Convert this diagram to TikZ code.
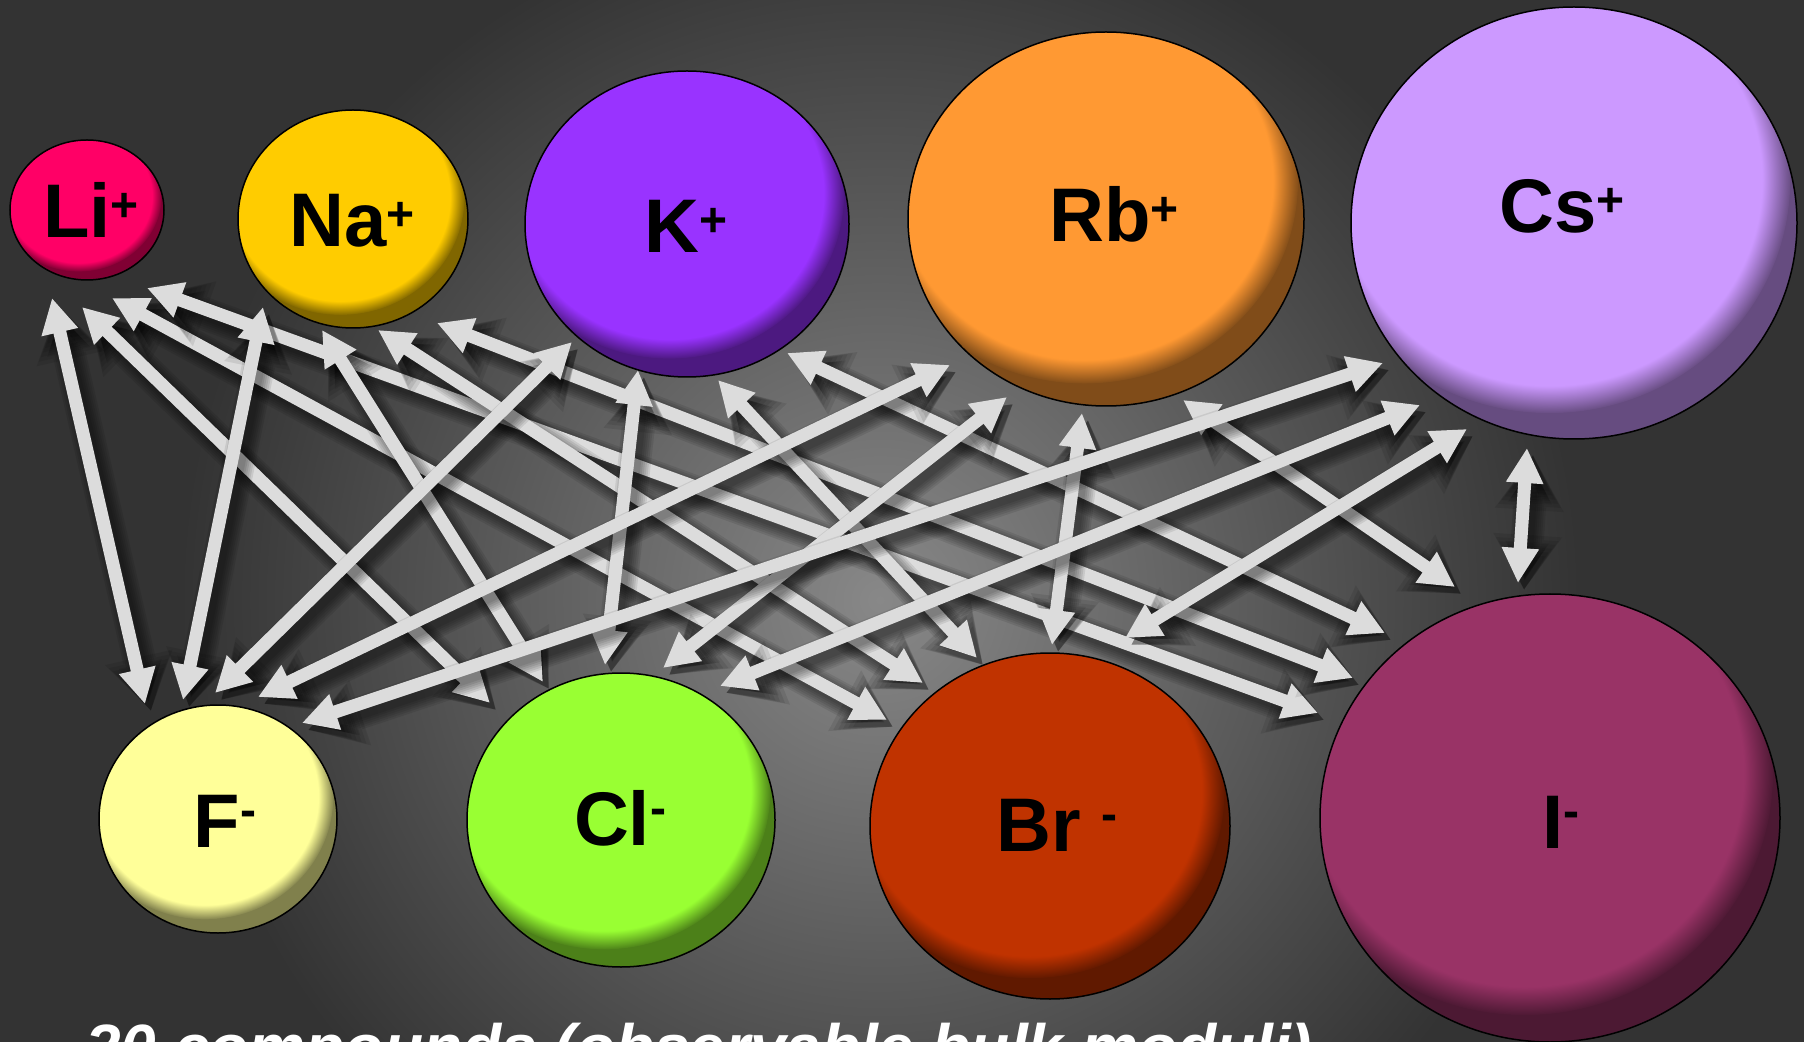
\documentclass[tikz,border=0pt]{standalone}
\usepackage{fontspec}
\setmainfont{Liberation Sans}
\usetikzlibrary{arrows.meta,calc,fadings,shapes.geometric}

% ion colours
\definecolor{cLi}{HTML}{FF0066}
\definecolor{cNa}{HTML}{FFCC00}
\definecolor{cK}{HTML}{9933FF}
\definecolor{cRb}{HTML}{FF9933}
\definecolor{cCs}{HTML}{CC99FF}
\definecolor{cF}{HTML}{FFFF99}
\definecolor{cCl}{HTML}{99FF33}
\definecolor{cBr}{HTML}{C03300}
\definecolor{cI}{HTML}{993366}
\definecolor{bondgray}{HTML}{DCDCDC}
\definecolor{bgmid}{HTML}{888888}
\definecolor{bgedge}{HTML}{333333}

% backdrop glow and the soft rim used for the shaded balls
% (a shaded or faded path is mapped onto the inner 50bp square)
\pgfdeclareradialshading{backdrop}{\pgfpointorigin}{color(0bp)=(bgmid); color(25bp)=(bgedge); color(50bp)=(bgedge)}
\pgfdeclareradialshading{rimshade}{\pgfpointorigin}{color(0bp)=(transparent!0); color(22bp)=(transparent!0); color(25bp)=(transparent!100); color(50bp)=(transparent!100)}
\pgfdeclarefading{rimfade}{\pgfuseshading{rimshade}}

% charge superscripts
\newcommand\cplus{\raisebox{8pt}{\fontsize{24pt}{24pt}\selectfont +}}
\newcommand\cminus{\raisebox{10.5pt}{\fontsize{24pt}{24pt}\selectfont -}}

% #1 name, #2/#3 centre, #4/#5 radii (px), #6 colour, #7/#8 label base point, #9 label
\newcommand\ion[9]{%
  \begin{scope}
    \clip (#2,#3) ellipse [x radius=#4*0.5pt, y radius=#5*0.5pt];
    \fill[#6!50!black] (#2,#3) ellipse [x radius=#4*0.5pt, y radius=#5*0.5pt];
    \fill[#6, path fading=rimfade] ($(#2,#3)+(-0.11*#4,-0.2*#5)$)
      ellipse [x radius=#4*0.54pt, y radius=#5*0.54pt];
  \end{scope}
  \node[ionrim, minimum width=#4pt, minimum height=#5pt] (#1) at (#2,#3) {};
  \node[ionlabel] (#1-label) at (#7,#8) {#9};
}

% double-headed bond with a soft drop shadow
\newcommand\bondpair[2]{%
  \begin{scope}[transform canvas={xshift=3pt,yshift=-3.5pt}]
    \draw[shadowlayer, shA] #1 -- #2;
    \draw[shadowlayer, shB] #1 -- #2;
    \draw[shadowlayer, shC] #1 -- #2;
    \draw[shadowlayer, shD] #1 -- #2;
    \draw[shadowlayer, shE] #1 -- #2;
    \draw[shadowlayer, shF] #1 -- #2;
  \end{scope}
  \draw[bond] #1 -- #2;
}

\tikzset{
  ionrim/.style={ellipse, draw=black, line width=0.75pt, inner sep=0pt, outer sep=0pt},
  ionlabel/.style={anchor=base, inner sep=0pt, text=black,
    font=\fontsize{38pt}{38pt}\selectfont\bfseries},
  bond/.style={draw=bondgray, line width=6.5pt,
    {Triangle[length=17.5pt,width=17.5pt]}-{Triangle[length=17.5pt,width=17.5pt]}},
  shadowlayer/.style={draw=black, opacity=0.085},
  shA/.style={line width=16.5pt,
    {Triangle[length=27.5pt,width=32.5pt]}-{Triangle[length=27.5pt,width=32.5pt]}},
  shB/.style={line width=14.5pt,
    {Triangle[length=25.5pt,width=29.5pt]}-{Triangle[length=25.5pt,width=29.5pt]}},
  shC/.style={line width=12.5pt,
    {Triangle[length=23.5pt,width=26.5pt]}-{Triangle[length=23.5pt,width=26.5pt]}},
  shD/.style={line width=10.5pt,
    {Triangle[length=21.5pt,width=23.5pt]}-{Triangle[length=21.5pt,width=23.5pt]}},
  shE/.style={line width=8.5pt,
    {Triangle[length=19.5pt,width=20.5pt]}-{Triangle[length=19.5pt,width=20.5pt]}},
  shF/.style={line width=6.5pt,
    {Triangle[length=17.5pt,width=17.5pt]}-{Triangle[length=17.5pt,width=17.5pt]}},
  caption/.style={anchor=base west, inner sep=0pt, text=white,
    font=\fontsize{32pt}{32pt}\selectfont\bfseries\itshape},
}

\begin{document}
\begin{tikzpicture}[x=0.5pt,y=-0.5pt]
\useasboundingbox (0,0) rectangle (1804,1042);
\clip (0,0) rectangle (1804,1042);

% backdrop
\fill[bgedge] (0,0) rectangle (1804,1042);
\shade[shading=backdrop] (880,600) circle [radius=350pt];

% cations
\ion{li}{87}{210}{77}{70}{cLi}{91}{238}{Li\cplus}
\ion{na}{353}{219}{115}{109}{cNa}{352}{247}{Na\cplus}
\ion{k}{687}{224}{162}{153}{cK}{686}{253}{K\cplus}
\ion{rb}{1106}{219}{198}{187}{cRb}{1114}{242}{Rb\cplus}
\ion{cs}{1574}{223}{223}{216}{cCs}{1562}{233}{Cs\cplus}
% anions
\ion{f}{218}{819}{119}{114}{cF}{225}{847}{F\cminus}
\ion{cl}{621}{820}{154}{147}{cCl}{620}{845}{Cl\cminus}
\ion{br}{1050}{826}{180}{173}{cBr}{1057}{851}{Br\hspace{10pt}\cminus}
\ion{i}{1550}{818}{230}{224}{cI}{1561}{848}{I\cminus}

% the twenty cation-anion pairs
\bondpair{($(li)+(-35,88)$)}{($(f)+(-73,-115)$)}
\bondpair{($(li)+(-5,97)$)}{($(cl)+(-131,-117)$)}
\bondpair{($(li)+(25,88)$)}{($(br)+(-163,-106)$)}
\bondpair{($(li)+(60,78)$)}{($(i)+(-232,-105)$)}
\bondpair{($(na)+(-90,88)$)}{($(f)+(-35,-119)$)}
\bondpair{($(na)+(-31,111)$)}{($(cl)+(-78,-138)$)}
\bondpair{($(na)+(25,111)$)}{($(br)+(-127,-143)$)}
\bondpair{($(na)+(84,104)$)}{($(i)+(-197,-140)$)}
\bondpair{($(k)+(-115,118)$)}{($(f)+(-3,-126)$)}
\bondpair{($(k)+(-49,146)$)}{($(cl)+(-16,-155)$)}
\bondpair{($(k)+(31,156)$)}{($(br)+(-73,-168)$)}
\bondpair{($(k)+(100,129)$)}{($(i)+(-165,-185)$)}
\bondpair{($(rb)+(-156,146)$)}{($(f)+(40,-122)$)}
\bondpair{($(rb)+(-99,178)$)}{($(cl)+(42,-152)$)}
\bondpair{($(rb)+(-24,194)$)}{($(br)+(2,-181)$)}
\bondpair{($(rb)+(77,181)$)}{($(i)+(-95,-231)$)}
\bondpair{($(cs)+(-191,140)$)}{($(f)+(84,-96)$)}
\bondpair{($(cs)+(-154,182)$)}{($(cl)+(99,-134)$)}
\bondpair{($(cs)+(-107,206)$)}{($(br)+(75,-188)$)}
\bondpair{($(cs)+(-47,225)$)}{($(i)+(-32,-235)$)}

% caption along the lower edge
\node[caption] (caption) at (85,1069) {20 compounds (observable bulk moduli)};
\end{tikzpicture}
\end{document}
